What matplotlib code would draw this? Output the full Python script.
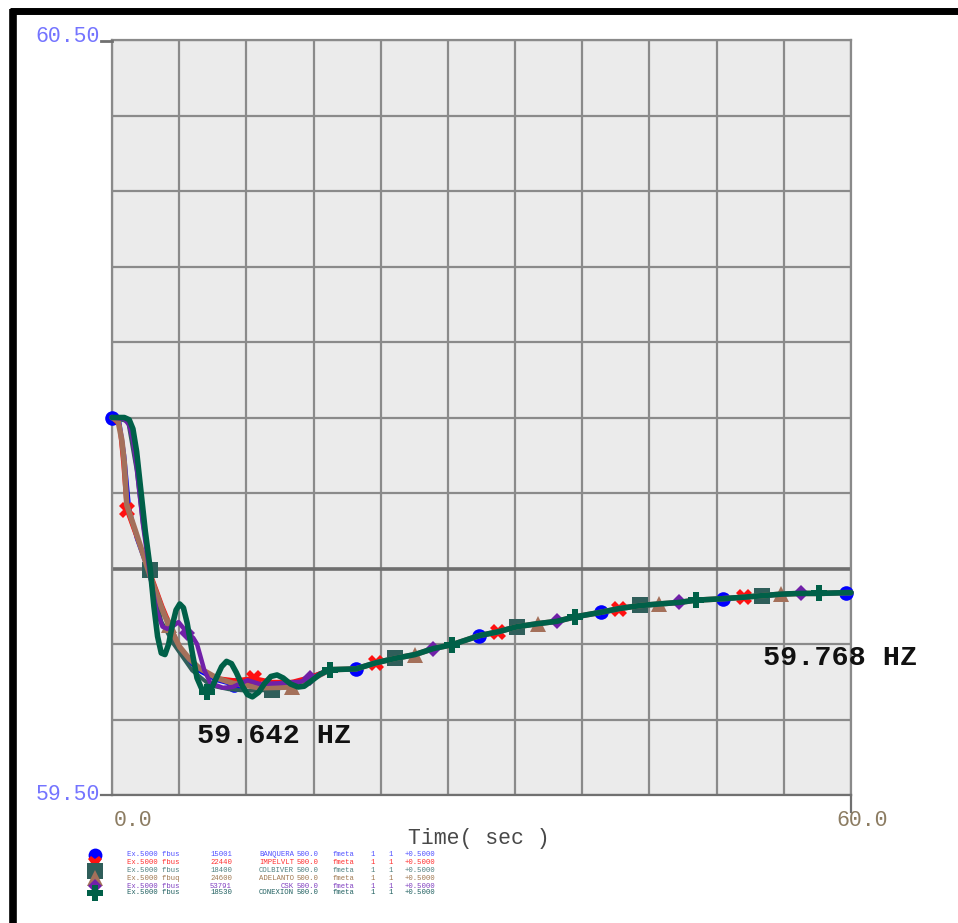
import numpy as np
import matplotlib
matplotlib.use("Agg")
from matplotlib import pyplot as plt

# ---- data (time in s, frequency in Hz) ----
# shared slow recovery after ~17.7 s (all six buses overlap here)
TAIL_T = [17.7, 19.8, 21.4, 23.0, 24.6, 26.1, 27.6, 29.8, 31.3, 32.9, 34.6, 36.1,
          37.6, 39.7, 41.2, 42.9, 44.4, 46.0, 47.4, 49.6, 51.3, 52.8, 54.3, 55.9,
          57.4, 59.6, 60.0]
TAIL_F = [59.666, 59.667, 59.675, 59.681, 59.686, 59.694, 59.699, 59.711, 59.716,
          59.723, 59.727, 59.730, 59.736, 59.742, 59.747, 59.751, 59.753, 59.755,
          59.758, 59.760, 59.762, 59.764, 59.766, 59.767, 59.767, 59.768, 59.768]

blue_t = [0.0, 0.6, 1.0, 1.4, 2.0, 3.1, 4.1, 5.5, 7.0, 8.5, 9.9, 11.5, 13.0, 14.6, 16.0, 17.0]
blue_f = [60.0, 59.995, 59.95, 59.88, 59.84, 59.79, 59.745, 59.69, 59.665, 59.652, 59.646,
          59.645, 59.647, 59.648, 59.655, 59.662]

red_t = [0.0, 0.6, 0.9, 1.2, 1.8, 3.1, 4.1, 5.5, 7.0, 8.5, 10.0, 11.5, 13.0, 14.6, 16.0, 17.0]
red_f = [60.0, 59.99, 59.94, 59.877, 59.85, 59.795, 59.75, 59.695, 59.668, 59.655, 59.652,
         59.655, 59.650, 59.650, 59.656, 59.662]

sq_t = [0.0, 1.3, 2.0, 2.5, 3.1, 4.0, 5.0, 6.5, 8.0, 9.5, 11.0, 13.0, 14.6, 16.0, 17.0]
sq_f = [60.0, 59.995, 59.93, 59.86, 59.798, 59.73, 59.70, 59.665, 59.645, 59.640, 59.638,
        59.639, 59.645, 59.652, 59.660]

brown_t = [0.0, 0.5, 0.8, 1.0, 1.2, 1.9, 2.5, 3.1, 4.1, 4.6, 5.5, 6.3, 7.1, 8.5, 9.8, 12.0,
           14.6, 16.0, 17.0]
brown_f = [60.0, 59.995, 59.97, 59.94, 59.884, 59.85, 59.82, 59.79, 59.745, 59.725, 59.696,
           59.680, 59.668, 59.655, 59.648, 59.642, 59.643, 59.652, 59.660]

purple_t = [0.0, 1.0, 1.4, 1.7, 2.0, 2.5, 3.1, 3.6, 4.1, 4.5, 4.8, 5.4, 6.1, 6.6, 6.9, 7.5,
            8.0, 9.0, 9.8, 11.0, 12.0, 13.5, 15.3, 16.1, 17.0]
purple_f = [60.0, 59.998, 59.99, 59.97, 59.935, 59.86, 59.79, 59.745, 59.723, 59.720,
            59.722, 59.729, 59.715, 59.708, 59.700, 59.665, 59.648, 59.642, 59.643, 59.652,
            59.647, 59.648, 59.650, 59.655, 59.660]

green_t = [0.0, 1.0, 1.4, 1.7, 2.0, 2.3, 2.7, 3.1, 3.4, 3.7, 4.0, 4.3, 4.6, 4.9, 5.2, 5.5,
           5.8, 6.1, 6.5, 6.9, 7.3, 7.7, 8.1, 8.5, 8.9, 9.3, 9.7, 10.1, 10.6, 11.0, 11.4,
           11.9, 12.4, 12.9, 13.4, 13.9, 14.5, 15.1, 15.6, 16.1, 16.9]
green_f = [60.0, 60.0, 59.997, 59.985, 59.955, 59.91, 59.85, 59.80, 59.75, 59.71, 59.688,
           59.686, 59.70, 59.725, 59.745, 59.753, 59.748, 59.728, 59.69, 59.655, 59.640,
           59.636, 59.642, 59.656, 59.670, 59.677, 59.674, 59.662, 59.644, 59.633, 59.630,
           59.636, 59.648, 59.657, 59.659, 59.655, 59.647, 59.643, 59.644, 59.650, 59.660]

# marker times of each channel
blue_mk = [0.0, 9.9, 19.8, 29.8, 39.7, 49.6, 59.6]
red_mk = [1.2, 11.5, 21.4, 31.3, 41.2, 51.3]
sq_mk = [3.1, 13.0, 23.0, 32.9, 42.9, 52.8]
brown_mk = [4.6, 14.6, 24.6, 34.6, 44.4, 54.3]
purple_mk = [6.1, 16.1, 26.1, 36.1, 46.0, 55.9]
green_mk = [7.7, 17.7, 27.6, 37.6, 47.4, 57.4]

min_label = "59.642 HZ"
end_label = "59.768 HZ"

legend_rows = [
    ["Ex.5000 fbus", "15001", "BANQUERA", "500.0", "fmeta", "1", "1", "+0.5000"],
    ["Ex.5000 fbus", "22440", "IMPELVLT", "500.0", "fmeta", "1", "1", "+0.5000"],
    ["Ex.5000 fbus", "18400", "COLBIVER", "500.0", "fmeta", "1", "1", "+0.5000"],
    ["Ex.5000 fbuq", "24600", "ADELANTO", "500.0", "fmeta", "1", "1", "+0.5000"],
    ["Ex.5000 fbus", "53791", "CSK", "500.0", "fmeta", "1", "1", "+0.5000"],
    ["Ex.5000 fbus", "18530", "CONEXION", "500.0", "fmeta", "1", "1", "+0.5000"],
]

series = [
    # t, f, marker times, colour, marker, size, lw, text colour
    (blue_t, blue_f, blue_mk, "#0000ff", "o", 10.5, 2.8, "#5050ff"),
    (red_t, red_f, red_mk, "#ff1010", "X", 11, 2.8, "#ff3030"),
    (sq_t, sq_f, sq_mk, "#2f5e5a", "s", 12, 2.8, "#4f8080"),
    (brown_t, brown_f, brown_mk, "#a4705a", "^", 11.5, 4.0, "#a07850"),
    (purple_t, purple_f, purple_mk, "#7020a8", "D", 8, 3.2, "#8040c0"),
    (green_t, green_f, green_mk, "#006048", "P", 12, 4.0, "#206060"),
]

MONO = "Liberation Mono"
W, H = 958, 923

fig = plt.figure(figsize=(W / 100, H / 100), dpi=100)
fig.patch.set_facecolor("white")

ax = fig.add_axes([112 / W, 1 - 795 / H, 739 / W, 755 / H])
ax.set_facecolor("#ebebeb")
ax.set_xlim(0, 60)
ax.set_ylim(59.5, 60.5)
ax.set_xticks(np.linspace(0, 60, 12))
ax.set_yticks(np.linspace(59.5, 60.5, 11))
ax.tick_params(length=0, labelbottom=False, labelleft=False)
ax.grid(True, color="#8a8a8a", lw=1.6)
ax.set_axisbelow(True)
for sp in ax.spines.values():
    sp.set_color("#8a8a8a")
    sp.set_linewidth(1.6)
ax.spines["bottom"].set_color("#707070")
ax.axhline(59.8, color="#6e6e6e", lw=2.6, zorder=1)

for k, (t, f, mk, col, m, ms, lw, _) in enumerate(series):
    tt = list(t) + TAIL_T
    ff = list(f) + TAIL_F
    idx = [tt.index(v) for v in mk]
    ax.plot(tt, ff, color=col, lw=lw, marker=m, markersize=ms, markevery=idx,
            markeredgewidth=0, solid_joinstyle="round", solid_capstyle="round",
            zorder=3 + k, clip_on=False)

ax.text(6.9, 59.569, min_label, family=MONO, weight="bold", fontsize=20.5,
        color="#111111", va="baseline", ha="left", zorder=20)
ax.text(52.86, 59.672, end_label, family=MONO, weight="bold", fontsize=20.5,
        color="#111111", va="baseline", ha="left", zorder=20, clip_on=False)

# overlay in pixel coordinates for frame, tick labels and legend
ov = fig.add_axes([0, 0, 1, 1], zorder=5)
ov.set_xlim(0, W)
ov.set_ylim(H, 0)
ov.axis("off")
ov.patch.set_visible(False)

ov.plot([13.5, 13.5], [9, H], color="black", lw=5.5, solid_capstyle="butt")
ov.plot([10, W], [11, 11], color="black", lw=5, solid_capstyle="butt")

ov.plot([101, 112], [40.5, 40.5], color="#707070", lw=2)
ov.plot([101, 112], [795, 795], color="#707070", lw=1.6)
ov.plot([851, 851], [795, 812], color="#707070", lw=1.6)

tick_kw = dict(family=MONO, fontsize=15.5, va="baseline")
ov.text(100, 42, "60.50", ha="right", color="#7474ff", **tick_kw)
ov.text(100, 800, "59.50", ha="right", color="#7474ff", **tick_kw)
ov.text(114, 826, "0.0", ha="left", color="#8c7c62", **tick_kw)
ov.text(836, 826, "60.0", ha="left", color="#8c7c62", **tick_kw)
ov.text(408, 844, "Time( sec )", ha="left", color="#484848", **tick_kw)

row_y = [855, 863, 871, 878, 886, 893]
col_x = [127, 210, 255, 297, 333, 370, 388, 405]
for (t, f, mk, col, m, ms, lw, tcol), y, row in zip(series, row_y, legend_rows):
    ov.plot([95], [y], marker=m, color=col, markersize=ms * 0.95, markeredgewidth=0)
    for j, (x, s) in enumerate(zip(col_x, row)):
        if j == 2:
            ov.text(294, y, s, family=MONO, fontsize=5.2, color=tcol,
                    ha="right", va="center")
        else:
            ov.text(x, y, s, family=MONO, fontsize=5.2, color=tcol,
                    ha="left", va="center")

fig.savefig("out.png", dpi=100)
